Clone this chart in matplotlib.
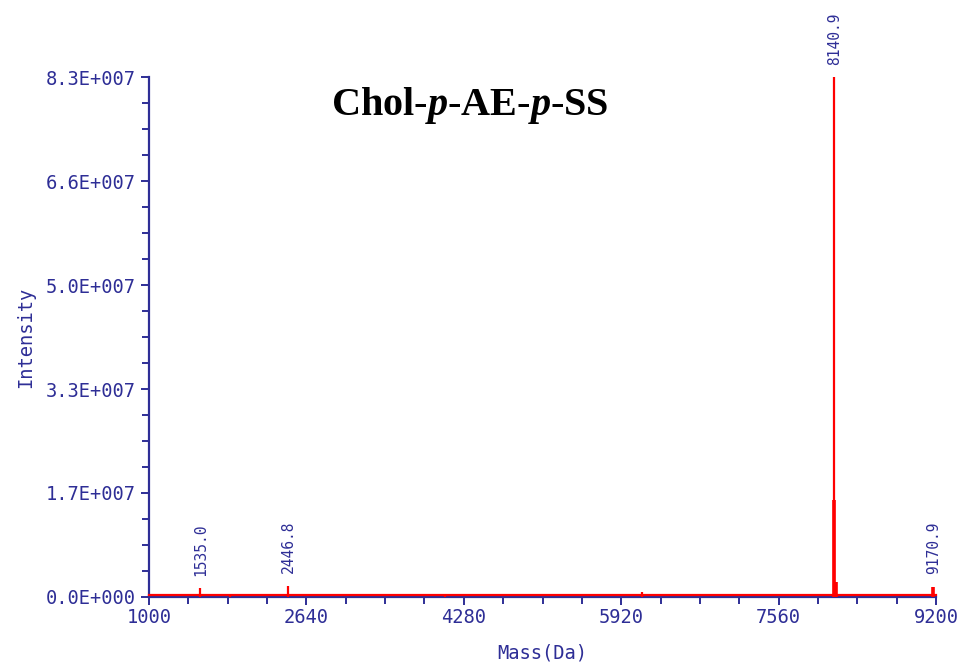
import numpy as np
import matplotlib
matplotlib.use("Agg")
from matplotlib import pyplot as plt
from matplotlib.ticker import FixedLocator, FuncFormatter

# Peak list (mass in Da, intensity in counts)
peak_masses = [1535.0, 1844.0, 2446.8, 4084.0, 6137.0, 8136.0, 8140.9, 8160.0, 9170.9]
peak_intensities = [1.4e6, 5.0e5, 1.8e6, 3.0e5, 8.0e5, 1.55e7, 8.3e7, 2.4e6, 1.6e6]
labelled_peaks = [1535.0, 2446.8, 8140.9, 9170.9]
baseline_level = 3.0e5

x_ticks = [1000, 2640, 4280, 5920, 7560, 9200]
y_max = 8.3e7

navy = "#2e2e96"
mono = "DejaVu Sans Mono"

plt.rcParams["mathtext.fontset"] = "custom"
plt.rcParams["mathtext.rm"] = "Liberation Serif:bold"
plt.rcParams["mathtext.it"] = "Liberation Serif:bold:italic"

fig = plt.figure(figsize=(9.64, 6.70), dpi=100)
ax = fig.add_axes([0.1546, 0.109, 0.8164, 0.776])

# spectrum
ax.axhline(baseline_level, color="red", lw=1.6, zorder=3, clip_on=False)
ax.vlines(peak_masses, 0, peak_intensities, color="red", lw=1.6, zorder=3)
thick = [m for m, h in zip(peak_masses, peak_intensities) if h < 2e7 and m > 8000]
ax.vlines(thick, 0, [peak_intensities[peak_masses.index(m)] for m in thick], color="red", lw=2.6, zorder=3)

for m, h in zip(peak_masses, peak_intensities):
    if m in labelled_peaks:
        ax.annotate(f"{m:.1f}", (m, h), xytext=(0, 9), textcoords="offset points",
                    rotation=90, ha="center", va="bottom", color=navy,
                    family=mono, fontsize=10.5, annotation_clip=False)

ax.set_xlim(x_ticks[0], x_ticks[-1])
ax.set_ylim(0, y_max)
ax.set_xticks(x_ticks)
ax.xaxis.set_minor_locator(FixedLocator(np.arange(x_ticks[0], x_ticks[-1], (x_ticks[1] - x_ticks[0]) / 4)))
ax.set_yticks(np.linspace(0, y_max, 6))
ax.yaxis.set_minor_locator(FixedLocator(np.linspace(0, y_max, 21)))

def sci_fmt(v, pos):
    if v == 0:
        return "0.0E+000"
    e = int(np.floor(np.log10(v)))
    return f"{v / 10**e:.1f}E+{e:03d}"

ax.yaxis.set_major_formatter(FuncFormatter(sci_fmt))

for s in ["top", "right"]:
    ax.spines[s].set_visible(False)
for s in ["left", "bottom"]:
    ax.spines[s].set_color(navy)
    ax.spines[s].set_linewidth(1.6)

ax.tick_params(which="both", direction="out", color=navy, width=1.4, labelcolor=navy)
ax.tick_params(which="major", length=6, labelsize=13.5)
ax.tick_params(which="minor", length=5)
ax.tick_params(axis="x", which="major", pad=2)
for lab in ax.get_xticklabels() + ax.get_yticklabels():
    lab.set_family(mono)

ax.set_xlabel("Mass(Da)", family=mono, fontsize=13.5, color=navy, labelpad=12)
ax.set_ylabel("Intensity", family=mono, fontsize=13.5, color=navy, labelpad=8)

ax.text(0.408, 0.985, r"$\text{Chol-}\mathit{p}\text{-AE-}\mathit{p}\text{-SS}$",
        transform=ax.transAxes, ha="center", va="top", fontsize=29, color="black")

fig.savefig("out.png", dpi=100)
